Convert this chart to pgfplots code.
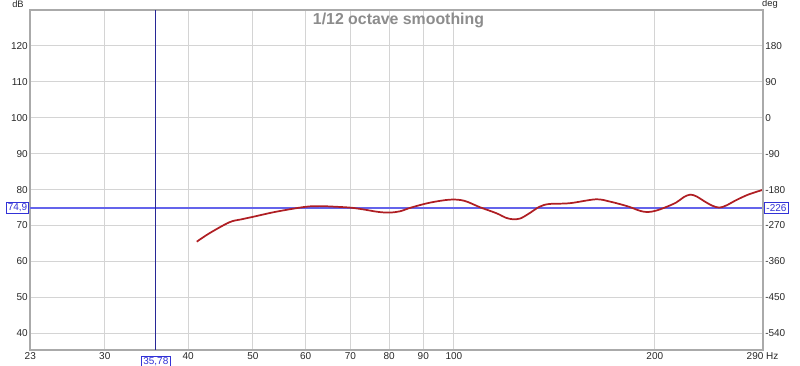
\documentclass[border=0pt]{standalone}
\usepackage{pgfplots}
\pgfplotsset{compat=1.18}
\usepackage{fontspec}
\setmainfont{Liberation Sans}
\definecolor{curve}{RGB}{175,30,35}
\definecolor{gridc}{RGB}{212,212,212}
\definecolor{framec}{RGB}{170,170,170}
\definecolor{hcur}{RGB}{100,100,235}
\definecolor{vcur}{RGB}{40,40,150}
\definecolor{curtxt}{RGB}{50,50,215}
\definecolor{titlec}{RGB}{140,140,140}
\definecolor{lbl}{RGB}{40,40,40}
\pgfplotstableread{
f db
41.2 65.5
43.0 67.8
46.1 70.9
48.0 71.7
50.1 72.45
54.2 73.85
59.9 75.2
63.0 75.4
65.3 75.3
69.8 75.0
73.1 74.5
77.0 73.8
80.0 73.6
83.0 73.95
86.3 75.0
92.0 76.35
98.6 77.2
103.6 76.9
109.4 75.1
115.9 73.4
119.5 72.2
122.5 71.75
125.7 71.95
129.5 73.3
134.3 75.2
139.0 76.0
149.0 76.2
163.2 77.3
171.0 76.7
177.0 76.0
183.2 75.2
190.0 74.1
195.0 73.75
200.5 74.1
207.0 75.0
215.3 76.4
221.0 77.9
226.0 78.6
231.0 78.1
237.0 76.8
244.0 75.5
250.0 75.0
256.0 75.6
265.0 77.1
276.0 78.6
287.5 79.7
290.5 79.95
}\resp
\begin{document}
\begin{tikzpicture}
\path[use as bounding box] (-22.5pt,-12pt) rectangle (577.5pt,262.5pt);
\begin{axis}[
  at={(0,0)}, anchor=south west,
  scale only axis, width=549.75pt, height=255pt,
  xmode=log, xmin=23.18, xmax=290.5,
  ymin=35.35, ymax=130,
  log basis x=10,
  xtick={23.2,30,40,50,60,70,80,90,100,200,290},
  xticklabels={23,30,40,50,60,70,80,90,100,200,290 Hz},
  ytick={40,50,60,70,80,90,100,110,120},
  grid=major,
  major grid style={gridc, line width=0.75pt},
  major tick length=0pt, minor tick length=0pt,
  axis line style={framec, line width=1.3pt},
  tick label style={font=\fontsize{7.5}{8}\selectfont, text=lbl},
  yticklabel style={inner sep=1.5pt},
  xticklabel style={inner sep=1pt, yshift=-1pt},
  /pgf/number format/assume math mode=true,
  clip=false,
  axis on top=false,
]
\addplot[draw=hcur, color=hcur, line width=0.9pt, no marks] coordinates {(23.18,74.9) (290.5,74.9)};
\addplot[draw=vcur, color=vcur, line width=0.9pt, no marks] coordinates {(35.78,35.35) (35.78,130)};
\addplot[curve, line width=1.3pt, smooth, tension=0.55] table[x=f, y=db] {\resp};
\node[text=titlec, font=\bfseries\fontsize{11.9}{13}\selectfont] at (rel axis cs:0.5027,0.9706) {1/12 octave smoothing};
\node[text=lbl, font=\fontsize{7}{8}\selectfont] at (rel axis cs:-0.0164,1.0176) {dB};
\node[text=lbl, font=\fontsize{7}{8}\selectfont] at (rel axis cs:1.0095,1.0176) {deg};
\node[draw=curtxt, fill=white, text=curtxt, inner sep=1.2pt, line width=0.6pt, font=\fontsize{7.5}{8}\selectfont] at (axis cs:35.78,32.1) {35,78};
\node[draw=curtxt, fill=white, text=curtxt, inner sep=1.2pt, line width=0.6pt, font=\fontsize{7.5}{8}\selectfont, anchor=east] at (rel axis cs:-0.001,0.4180) {74,9};
\node[draw=curtxt, fill=white, text=curtxt, inner sep=1.2pt, line width=0.6pt, font=\fontsize{7.5}{8}\selectfont, anchor=west] at (rel axis cs:1.002,0.4180) {-226};
\end{axis}
\begin{axis}[
  at={(0,0)}, anchor=south west,
  scale only axis, width=549.75pt, height=255pt,
  xmode=log, xmin=23.18, xmax=290.5,
  ymin=-581.85, ymax=270,
  axis y line*=right, axis x line=none,
  ytick={-540,-450,-360,-270,-180,-90,0,90,180},
  major tick length=0pt,
  axis line style={framec, line width=1.3pt},
  tick label style={font=\fontsize{7.5}{8}\selectfont, text=lbl},
  yticklabel style={inner sep=1.5pt},
  /pgf/number format/assume math mode=true,
]
\end{axis}
\end{tikzpicture}
\end{document}
